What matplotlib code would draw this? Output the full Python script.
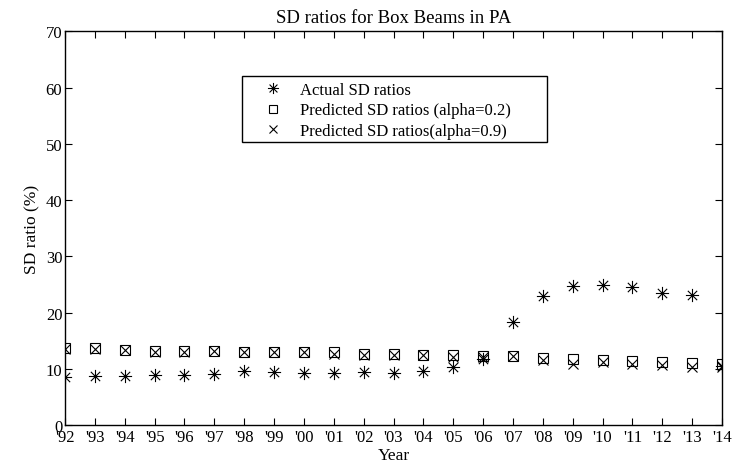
import matplotlib
matplotlib.use("Agg")
import matplotlib.pyplot as plt
from matplotlib.path import Path
from matplotlib.patches import Rectangle

plt.rcParams['font.family'] = ['Liberation Serif', 'DejaVu Serif']

years = list(range(1992, 2015))
year_labels = ["'92", "'93", "'94", "'95", "'96", "'97", "'98", "'99", "'00", "'01",
               "'02", "'03", "'04", "'05", "'06", "'07", "'08", "'09", "'10", "'11",
               "'12", "'13", "'14"]

actual_sd = [8.5, 8.7, 8.7, 8.8, 8.9, 9.0, 9.6, 9.5, 9.2, 9.2,
             9.4, 9.2, 9.6, 10.3, 11.8, 18.3, 22.9, 24.7, 24.9, 24.5,
             23.5, 23.1, 10.4]
pred_alpha02 = [13.7, 13.7, 13.4, 13.2, 13.1, 13.1, 13.0, 13.0, 13.0, 12.9,
                12.7, 12.6, 12.5, 12.5, 12.2, 12.3, 11.9, 11.7, 11.6, 11.4,
                11.2, 11.1, 10.9]
pred_alpha09 = [13.6, 13.6, 13.4, 12.9, 12.9, 13.1, 12.9, 12.9, 12.9, 12.7,
                12.4, 12.4, 12.5, 12.0, 12.0, 12.3, 11.5, 10.9, 11.2, 10.9,
                10.6, 10.3, 10.3]

# eight-spoke asterisk marker
d = 0.7071
asterisk = Path(
    [(-1, 0), (1, 0), (0, -1), (0, 1), (-d, -d), (d, d), (-d, d), (d, -d)],
    [Path.MOVETO, Path.LINETO] * 4,
)

fig = plt.figure(figsize=(7.39, 4.64), dpi=100)
ax = fig.add_axes([0.088, 0.082, 0.889, 0.848])

ax.plot(years, actual_sd, linestyle='none', marker=asterisk, markersize=9.5,
        markerfacecolor='none', markeredgecolor='black', markeredgewidth=0.8,
        label='Actual SD ratios')
ax.plot(years, pred_alpha02, linestyle='none', marker='s', markersize=7,
        markerfacecolor='none', markeredgecolor='black', markeredgewidth=0.8,
        label='Predicted SD ratios (alpha=0.2)')
ax.plot(years, pred_alpha09, linestyle='none', marker='x', markersize=7,
        color='black', markeredgewidth=0.8,
        label='Predicted SD ratios(alpha=0.9)')

ax.set_xlim(1992, 2014)
ax.set_ylim(0, 70)
ax.set_xticks(years)
ax.set_xticklabels(year_labels)
ax.set_yticks(range(0, 71, 10))
ax.tick_params(direction='in', top=True, right=True, labelsize=12,
               length=5, width=0.8)
ax.tick_params(axis='x', pad=3)
ax.tick_params(axis='y', pad=2)
for s in ax.spines.values():
    s.set_linewidth(1.0)

ax.set_title('SD ratios for Box Beams in PA', fontsize=13.5, pad=7)
ax.set_xlabel('Year', fontsize=12.5, labelpad=1)
ax.set_ylabel('SD ratio (%)', fontsize=12.5, labelpad=4)

# legend box
ax.add_patch(Rectangle((0.270, 0.7188), 0.463, 0.1678, transform=ax.transAxes,
                       facecolor='white', edgecolor='black', linewidth=1.0,
                       zorder=4))
leg = ax.legend(loc='upper left', bbox_to_anchor=(0.3014, 0.871), borderaxespad=0,
                borderpad=0, fontsize=12, frameon=False,
                handlelength=1.2, handletextpad=1.0, labelspacing=0.25)
leg.set_zorder(5)
for h, ms in zip(leg.legend_handles, [8, 5.5, 5.5]):
    h.set_markersize(ms)

fig.savefig('out.png', dpi=100)
